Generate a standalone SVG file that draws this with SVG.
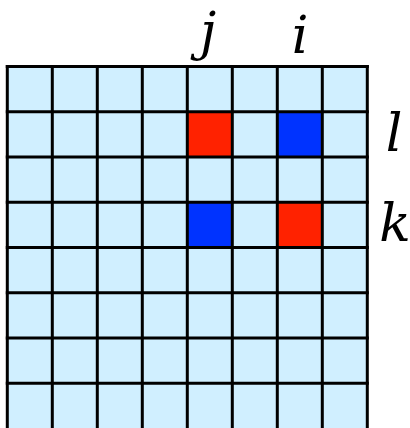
<svg xmlns="http://www.w3.org/2000/svg" width="410" height="428" viewBox="0 0 410 428">
<style>
.red{fill:#ff2200}
.blue{fill:#0033ff}
.lbl{font-family:"DejaVu Serif","Liberation Serif",serif;font-style:italic;font-size:52px;fill:#000;text-anchor:middle}
</style>
<g id="grid-bg">
<rect x="7.3" y="66.5" width="360" height="362" fill="#d0efff"/>
</g>
<g id="cell-l-j"><rect class="red" x="187.3" y="111.75" width="45" height="45.25"/></g>
<g id="cell-l-i"><rect class="blue" x="277.3" y="111.75" width="45" height="45.25"/></g>
<g id="cell-k-j"><rect class="blue" x="187.3" y="202.25" width="45" height="45.25"/></g>
<g id="cell-k-i"><rect class="red" x="277.3" y="202.25" width="45" height="45.25"/></g>
<g id="grid-lines" stroke="#000" stroke-width="3">
<line x1="7.3" y1="65" x2="7.3" y2="430"/>
<line x1="52.3" y1="65" x2="52.3" y2="430"/>
<line x1="97.3" y1="65" x2="97.3" y2="430"/>
<line x1="142.3" y1="65" x2="142.3" y2="430"/>
<line x1="187.3" y1="65" x2="187.3" y2="430"/>
<line x1="232.3" y1="65" x2="232.3" y2="430"/>
<line x1="277.3" y1="65" x2="277.3" y2="430"/>
<line x1="322.3" y1="65" x2="322.3" y2="430"/>
<line x1="367.3" y1="65" x2="367.3" y2="430"/>
<line x1="5.8" y1="66.5" x2="368.8" y2="66.5"/>
<line x1="5.8" y1="111.75" x2="368.8" y2="111.75"/>
<line x1="5.8" y1="157" x2="368.8" y2="157"/>
<line x1="5.8" y1="202.25" x2="368.8" y2="202.25"/>
<line x1="5.8" y1="247.5" x2="368.8" y2="247.5"/>
<line x1="5.8" y1="292.75" x2="368.8" y2="292.75"/>
<line x1="5.8" y1="338" x2="368.8" y2="338"/>
<line x1="5.8" y1="383.25" x2="368.8" y2="383.25"/>
</g>
<g id="labels">
<text class="lbl" x="208" y="49" font-size="48">j</text>
<text class="lbl" x="300" y="53">i</text>
<text class="lbl" x="394" y="151">l</text>
<text class="lbl" x="395" y="241">k</text>
</g>
</svg>
